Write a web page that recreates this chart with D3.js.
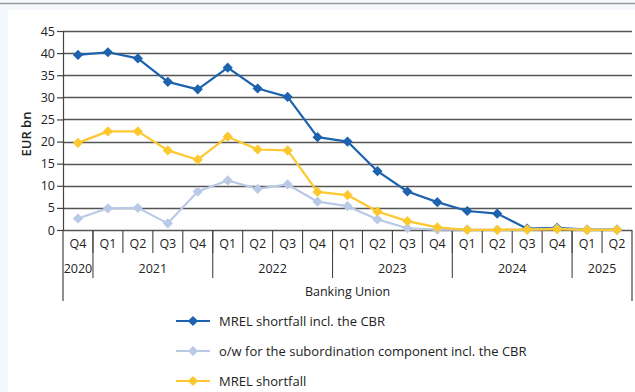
<!DOCTYPE html>
<html>
<head>
<meta charset="utf-8">
<script src="https://cdn.jsdelivr.net/npm/d3@7"></script>
<style>
  html, body { margin: 0; padding: 0; background: #f4f8fd; }
  svg { display: block; }
  text { font-family: "Open Sans", "Noto Sans", sans-serif; fill: #222; }
</style>
</head>
<body>
<svg id="chart" width="635" height="392"></svg>
<script>
// Quarterly periods, Q4 2020 to Q2 2025
const periods = ["2020Q4","2021Q1","2021Q2","2021Q3","2021Q4","2022Q1","2022Q2","2022Q3","2022Q4",
                 "2023Q1","2023Q2","2023Q3","2023Q4","2024Q1","2024Q2","2024Q3","2024Q4","2025Q1","2025Q2"];
const quarterLabels = ["Q4","Q1","Q2","Q3","Q4","Q1","Q2","Q3","Q4","Q1","Q2","Q3","Q4","Q1","Q2","Q3","Q4","Q1","Q2"];
const yearLabels = ["2020","2021","2022","2023","2024","2025"];
const yearSpans = [1, 4, 4, 4, 4, 2];
const yTicks = [0, 5, 10, 15, 20, 25, 30, 35, 40, 45];

// EUR bn
const mrelShortfallCbr = [39.6, 40.2, 38.8, 33.5, 31.8, 36.7, 32.0, 30.1, 21.0, 20.0, 13.3, 8.7, 6.3, 4.3, 3.7, 0.3, 0.5, 0.1, 0.1];
const subordinationCbr = [2.6, 4.9, 5.0, 1.5, 8.7, 11.2, 9.3, 10.3, 6.4, 5.4, 2.4, 0.4, 0.1, 0.1, 0.05, 0.1, 0.3, 0.05, 0.05];
const mrelShortfall    = [19.7, 22.3, 22.3, 18.0, 15.9, 21.1, 18.2, 18.0, 8.6, 7.9, 4.2, 2.0, 0.6, 0.05, 0.05, 0.1, 0.2, 0.05, 0.05];

const series = [
  { name: "MREL shortfall incl. the CBR", values: mrelShortfallCbr, color: "#1c62ae" },
  { name: "o/w for the subordination component incl. the CBR", values: subordinationCbr, color: "#bac9e6" },
  { name: "MREL shortfall", values: mrelShortfall, color: "#fdc82e" }
];

const svg = d3.select("#chart");
const fontSize = 12.5;

// page frame
svg.append("rect").attr("x", 0).attr("y", 0).attr("width", 635).attr("height", 392).attr("fill", "#f4f8fd");
svg.append("rect").attr("x", 8).attr("y", 10).attr("width", 627).attr("height", 382).attr("fill", "#ffffff");
svg.append("line").attr("x1", 0).attr("x2", 635).attr("y1", 3.5).attr("y2", 3.5)
  .attr("stroke", "#9a9a9a").attr("stroke-width", 1.5);

const plotLeft = 63, plotRight = 632, plotTop = 31, plotBottom = 230;

const x = d3.scaleBand().domain(periods).range([plotLeft, plotRight]).padding(0);
const y = d3.scaleLinear().domain([0, 45]).range([plotBottom, plotTop]);

// horizontal gridlines
svg.append("g").selectAll("line").data(yTicks).join("line")
  .attr("x1", plotLeft).attr("x2", plotRight)
  .attr("y1", d => Math.round(y(d)) + 0.5).attr("y2", d => Math.round(y(d)) + 0.5)
  .attr("stroke", "#555").attr("stroke-width", 1.5);

// y axis
const yAxis = svg.append("g").attr("transform", `translate(${plotLeft},0)`)
  .call(d3.axisLeft(y).tickValues(yTicks).tickSize(6).tickPadding(2));
yAxis.select(".domain").attr("stroke", "#444").attr("stroke-width", 1.2);
yAxis.selectAll(".tick line").attr("stroke", "#444").attr("stroke-width", 1.2);
yAxis.selectAll(".tick text").attr("font-size", fontSize).attr("fill", "#333")
  .attr("font-family", "'Open Sans', 'Noto Sans', sans-serif");

svg.append("text")
  .attr("transform", "translate(31,134) rotate(-90)")
  .attr("text-anchor", "middle").attr("font-size", 13).attr("font-weight", 600).attr("fill", "#222")
  .text("EUR bn");

// x axis: quarter cells, year groups and outer frame
const xg = svg.append("g");
periods.forEach((p, i) => {
  if (i > 0) {
    xg.append("line").attr("x1", x(p)).attr("x2", x(p)).attr("y1", plotBottom).attr("y2", 253)
      .attr("stroke", "#444").attr("stroke-width", 1.1);
  }
  xg.append("text").attr("x", x(p) + x.bandwidth() / 2).attr("y", 248)
    .attr("text-anchor", "middle").attr("font-size", fontSize).text(quarterLabels[i]);
});

let idx = 0;
yearLabels.forEach((yr, k) => {
  const start = x(periods[idx]);
  const end = x(periods[idx + yearSpans[k] - 1]) + x.bandwidth();
  xg.append("text").attr("x", (start + end) / 2).attr("y", 273)
    .attr("text-anchor", "middle").attr("font-size", fontSize).text(yr);
  if (k < yearLabels.length - 1) {
    xg.append("line").attr("x1", end).attr("x2", end).attr("y1", plotBottom).attr("y2", 278)
      .attr("stroke", "#444").attr("stroke-width", 1.1);
  }
  idx += yearSpans[k];
});

[plotLeft, plotRight].forEach(xx => {
  xg.append("line").attr("x1", xx).attr("x2", xx).attr("y1", plotBottom).attr("y2", 301)
    .attr("stroke", "#444").attr("stroke-width", 1.2);
});

xg.append("text").attr("x", (plotLeft + plotRight) / 2).attr("y", 296)
  .attr("text-anchor", "middle").attr("font-size", fontSize).text("Banking Union");

// series lines and diamond markers
const line = d3.line()
  .x((d, i) => x(periods[i]) + x.bandwidth() / 2)
  .y(d => y(d));
const diamond = d3.symbol().type(d3.symbolSquare).size(52);

series.forEach(s => {
  const g = svg.append("g");
  g.append("path").datum(s.values).attr("d", line)
    .attr("fill", "none").attr("stroke", s.color).attr("stroke-width", 2.2)
    .attr("stroke-linejoin", "round");
  g.selectAll("path.m").data(s.values).join("path").attr("class", "m")
    .attr("d", diamond)
    .attr("transform", (d, i) => `translate(${x(periods[i]) + x.bandwidth() / 2},${y(d)}) rotate(45)`)
    .attr("fill", s.color);
});

// legend
const legend = svg.append("g");
series.forEach((s, i) => {
  const ly = 321 + i * 30;
  legend.append("line").attr("x1", 176).attr("x2", 210).attr("y1", ly).attr("y2", ly)
    .attr("stroke", s.color).attr("stroke-width", 2.2);
  legend.append("path").attr("d", diamond)
    .attr("transform", `translate(193,${ly}) rotate(45)`).attr("fill", s.color);
  legend.append("text").attr("x", 219).attr("y", ly + 4.5)
    .attr("font-size", 13).attr("font-weight", 500).text(s.name);
});
</script>
</body>
</html>
